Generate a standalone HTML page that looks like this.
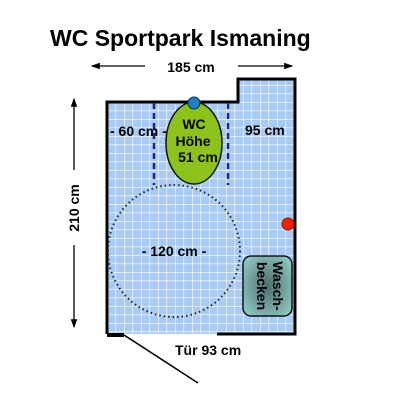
<!DOCTYPE html>
<html><head><meta charset="utf-8"><style>
body{margin:0;background:#fff;width:400px;height:411px;overflow:hidden}
text{font-family:"Liberation Sans",sans-serif;font-weight:bold}
</style></head><body>
<svg width="400" height="411" viewBox="0 0 400 411">
<defs>
<pattern id="tile" width="8.5" height="8.5" patternUnits="userSpaceOnUse" x="107" y="102">
<rect width="8.5" height="8.5" fill="#a9cbf3"/>
<path d="M0 0H8.5M0 0V8.5" stroke="#fff" stroke-width="1.2"/>
</pattern>
<radialGradient id="bas" cx="50%" cy="50%" r="60%"><stop offset="0" stop-color="#4d6e6e"/><stop offset="1" stop-color="#8cc3bf"/></radialGradient>
<marker id="ah" markerWidth="7" markerHeight="7" refX="6" refY="3.5" orient="auto"><path d="M0 1L7 3.5L0 6Z" fill="#000"/></marker>
</defs>
<text x="50" y="46" font-size="23" fill="#000">WC Sportpark Ismaning</text>
<path d="M107 102H238V79H295V334H107Z" fill="url(#tile)"/>
<path d="M107 334V102H238V79H295V334H217" fill="none" stroke="#000" stroke-width="3"/>
<path d="M107 335H124" stroke="#000" stroke-width="4"/>
<line x1="124" y1="335" x2="198" y2="383" stroke="#000" stroke-width="1.5"/>
<text x="175" y="355" font-size="14">Tür 93 cm</text>
<line x1="145" y1="66" x2="92" y2="66" stroke="#000" stroke-width="1.3" marker-end="url(#ah)"/>
<line x1="238" y1="66" x2="292" y2="66" stroke="#000" stroke-width="1.3" marker-end="url(#ah)"/>
<text x="191" y="72" font-size="14" text-anchor="middle">185 cm</text>
<line x1="74" y1="170" x2="74" y2="99" stroke="#000" stroke-width="1.3" marker-end="url(#ah)"/>
<line x1="74" y1="245" x2="74" y2="327" stroke="#000" stroke-width="1.3" marker-end="url(#ah)"/>
<text transform="translate(79,208) rotate(-90)" font-size="14" text-anchor="middle">210 cm</text>
<circle cx="174" cy="251" r="66" fill="none" stroke="#1a2a3a" stroke-width="2" stroke-dasharray="1.5 3"/>
<text x="174" y="256" font-size="14" text-anchor="middle">- 120 cm -</text>
<line x1="154" y1="103" x2="154" y2="185" stroke="#1a2a8a" stroke-width="2.5" stroke-dasharray="6 4"/>
<line x1="228" y1="103" x2="228" y2="185" stroke="#1a2a8a" stroke-width="2.5" stroke-dasharray="6 4"/>
<ellipse cx="194" cy="143" rx="28" ry="41" fill="#8cc21a" stroke="#111" stroke-width="1.5"/>
<circle cx="194" cy="103" r="6" fill="#1e7fc4" stroke="#0a3050" stroke-width="1"/>
<text x="194" y="129" font-size="14" text-anchor="middle">WC</text>
<text x="193" y="146" font-size="14" text-anchor="middle">Höhe</text>
<text x="198" y="162" font-size="14" text-anchor="middle">51 cm</text>
<text x="110" y="136" font-size="14">- 60 cm -</text>
<text x="245" y="135" font-size="14">95 cm</text>
<circle cx="288" cy="224" r="6" fill="#f02000" stroke="#a01000" stroke-width="1"/>
<rect x="243" y="256" width="49" height="60" rx="8" fill="url(#bas)" stroke="#111" stroke-width="1.5"/>
<text transform="translate(273,286) rotate(90)" font-size="14" text-anchor="middle">Wasch-</text>
<text transform="translate(257,286) rotate(90)" font-size="14" text-anchor="middle">becken</text>
</svg>
</body></html>
